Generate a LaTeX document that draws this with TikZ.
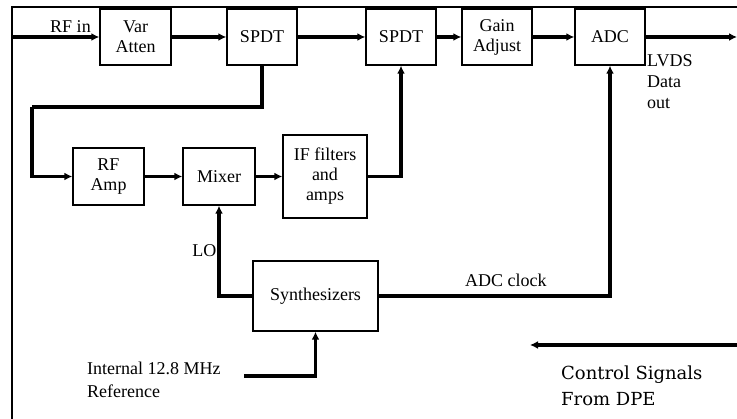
\documentclass[tikz,border=0pt]{standalone}
\usepackage{fontspec}
\setmainfont{Liberation Serif}
\newfontfamily\dpefont{DejaVu Serif}
\usetikzlibrary{positioning, arrows.meta}

\begin{document}
\begin{tikzpicture}[x=1pt, y=-1pt, >={Latex[length=8pt,width=8pt]},
    blk/.style={draw, line width=1.4pt, align=center, inner sep=0pt,
        font=\fontsize{18}{20}\selectfont},
    sig/.style={line width=3.2pt},
    lbl/.style={inner sep=0pt, font=\fontsize{18}{21}\selectfont}]
            \useasboundingbox (0,0) rectangle (737,419);
            \draw[line width=1.4pt] (737,7) -- (12,7) -- (12,419);

            % top chain
            \node[blk, minimum width=71pt, minimum height=56pt] (atten) at (135.5,37) {Var\\Atten};
            \node[blk, minimum width=70pt, minimum height=56pt] (spdt1) at (262,37) {SPDT};
            \node[blk, minimum width=70pt, minimum height=56pt] (spdt2) at (401,37) {SPDT};
            \node[blk, minimum width=70pt, minimum height=56pt] (gain) at (497,37) {Gain\\Adjust};
            \node[blk, minimum width=70pt, minimum height=56pt] (adc) at (610,37) {ADC};

            % IF path
            \node[blk, minimum width=71pt, minimum height=57pt] (rfamp) at (108.5,176.5) {RF\\Amp};
            \node[blk, minimum width=72pt, minimum height=57pt] (mixer) at (219,176.5) {Mixer};
            \node[blk, minimum width=84pt, minimum height=83pt] (iff) at (325,176.5) {IF filters\\and\\amps};
            \node[blk, minimum width=125pt, minimum height=70pt] (synth) at (315.5,296) {Synthesizers};

            \coordinate (rfin) at (12,37);
            \coordinate (lvds) at (737,37);
            \coordinate (bend) at (32,107);
            \coordinate (ref) at (244,376);
            \coordinate (dpe) at (737,345);
            \coordinate (dpeend) at (530,345);

            \path[->, sig]
            (rfin) edge node[lbl, pos=0.67, above=2.5pt] {RF in} (atten)
            (atten) edge (spdt1)
            (spdt1) edge (spdt2)
            (spdt2) edge (gain)
            (gain) edge (adc)
            (adc) edge (lvds)
            (rfamp) edge (mixer)
            (mixer) edge (iff)
            (dpe) edge (dpeend);

            \draw[sig] (spdt1.south) |- (bend);
            \draw[->, sig] (bend) |- (rfamp.west);
            \draw[->, sig] (iff.east) -| (spdt2.south);
            \draw[->, sig] (synth.west) -| node[lbl, pos=0.75, left=1pt] {LO} (mixer.south);
            \draw[->, sig] (synth.east) -| node[lbl, pos=0.275, above=8pt] {ADC clock} (adc.south);
            \draw[->, sig] (ref) -| (synth.south);

            \node[lbl, anchor=west, align=left] (lvdstext) at (647,82) {LVDS\\Data\\out};
            \node[lbl, anchor=west, align=left, font=\fontsize{18}{23}\selectfont] (reftext) at (87,380) {Internal 12.8 MHz\\Reference};
            \node[lbl, anchor=west, align=left, font=\dpefont\fontsize{18}{26}\selectfont] (dpetext) at (561,386) {Control Signals\\From DPE};
\end{tikzpicture}
\end{document}
